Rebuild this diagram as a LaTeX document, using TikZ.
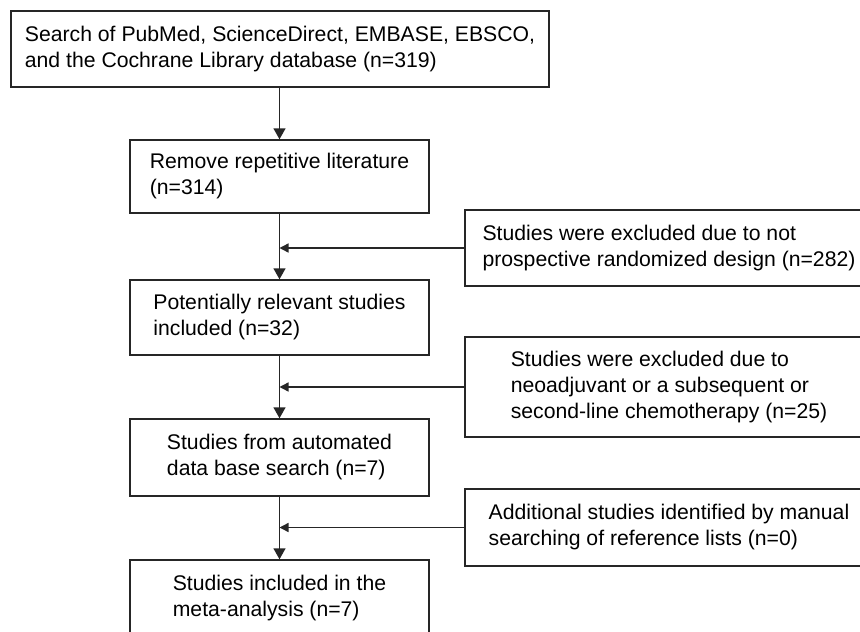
\documentclass[tikz,border=0pt]{standalone}
\usepackage{fontspec}
\setmainfont{Liberation Sans}
\usetikzlibrary{arrows.meta}
\begin{document}
\begin{tikzpicture}[x=1pt,y=-1pt,
  box/.style={draw=black!85, line width=1.4pt, align=left, inner sep=0pt,
    font=\fontsize{21.2}{26}\selectfont, text=black},
  arrmain/.style={-{Triangle[length=11pt,width=12pt]}, line width=1.4pt, draw=black!85},
  arrside/.style={-{Triangle[length=9pt,width=9pt]}, line width=1.4pt, draw=black!85}]
\path[use as bounding box] (0,0) rectangle (860,632);
\clip (0,0) rectangle (860,632);
\node[box, minimum width=538pt, minimum height=76pt] (b1) at (280,49)
  {Search of PubMed, ScienceDirect, EMBASE, EBSCO,\\and the Cochrane Library database (n=319)};
\node[box, minimum width=299pt, minimum height=73pt] (b2) at (279.5,176.5)
  {Remove repetitive literature\\(n=314)};
\node[box, minimum width=299pt, minimum height=75pt] (b3) at (279.5,317.5)
  {Potentially relevant studies\\included (n=32)};
\node[box, minimum width=299pt, minimum height=77pt] (b4) at (279.5,457.5)
  {Studies from automated\\data base search (n=7)};
\node[box, minimum width=299pt, minimum height=76pt] (b5) at (279.5,598)
  {Studies included in the\\meta-analysis (n=7)};
\node[box, minimum width=408pt, minimum height=76pt] (r1) at (669,248)
  {Studies were excluded due to not\\prospective randomized design (n=282)};
\node[box, minimum width=408pt, minimum height=100pt] (r2) at (669,387)
  {Studies were excluded due to\\neoadjuvant or a subsequent or\\second-line chemotherapy (n=25)};
\node[box, minimum width=408pt, minimum height=77pt] (r3) at (669,527.5)
  {Additional studies identified by manual\\searching of reference lists (n=0)};
\draw[arrmain] (b2.north |- b1.south) -- (b2.north);
\draw[arrmain] (b2.south) -- (b3.north);
\draw[arrmain] (b3.south) -- (b4.north);
\draw[arrmain] (b4.south) -- (b5.north);
\draw[arrside] (r1.west) -- (r1.west -| b2.center);
\draw[arrside] (r2.west) -- (r2.west -| b3.center);
\draw[arrside] (r3.west) -- (r3.west -| b4.center);
\end{tikzpicture}
\end{document}
